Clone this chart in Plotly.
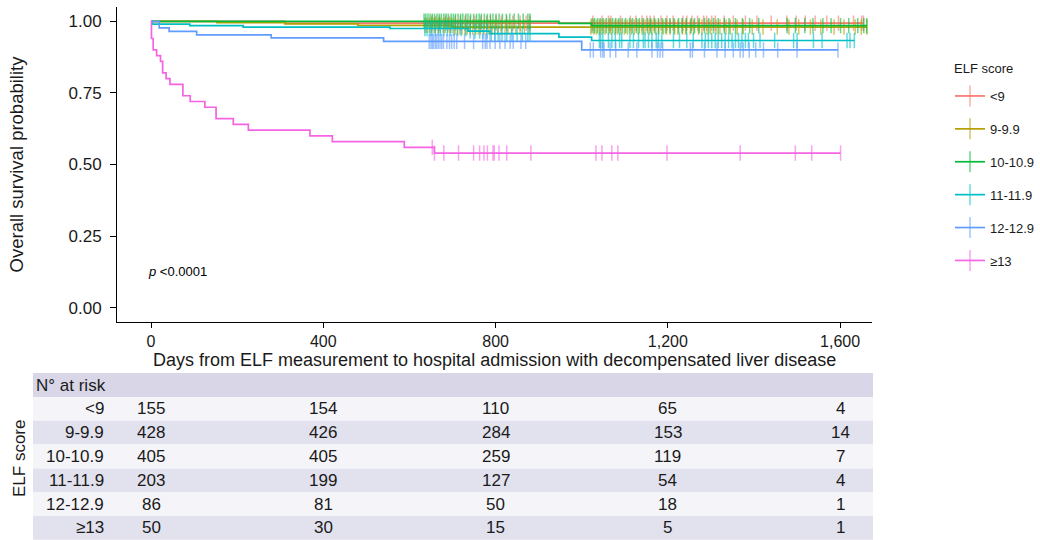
import plotly.graph_objects as go

# ---------------- data ----------------
groups = ["<9", "9-9.9", "10-10.9", "11-11.9", "12-12.9", "≥13"]
colors = ["#F8766D", "#B79F00", "#00BA38", "#00BFC4", "#619CFF", "#F564E3"]
tick_alpha = ["rgba(248,118,109,0.6)", "rgba(183,159,0,0.6)", "rgba(0,186,56,0.6)",
              "rgba(0,191,196,0.6)", "rgba(97,156,255,0.6)", "rgba(245,100,227,0.6)"]

# event times (days) and survival after each event
lt9_t = [311]
lt9_s = [0.9935]
g9_t = [153, 311, 480, 700]
g9_s = [0.995, 0.991, 0.986, 0.980]
g10_t = [947, 1023]
g10_s = [0.993, 0.985]
g11_t = [3, 90, 214, 555, 736, 787, 947, 1023]
g11_s = [0.990, 0.985, 0.980, 0.975, 0.966, 0.957, 0.945, 0.933]
g12_t = [19, 42, 106, 279, 540, 1000]
g12_s = [0.977, 0.965, 0.953, 0.942, 0.930, 0.900]
g13_t = [1, 5, 13, 22, 27, 35, 44, 74, 91, 125, 151, 191, 226, 369, 421, 588, 658]
g13_s = [0.94, 0.90, 0.88, 0.86, 0.82, 0.80, 0.78, 0.74, 0.72, 0.70, 0.66, 0.64, 0.62,
         0.60, 0.58, 0.56, 0.54]

# last follow-up per group
end_t = [1654, 1662, 1662, 1633, 1595, 1601]

# censoring times (days)
lt9_c = [652, 661, 670, 684, 693, 706, 718, 729, 741, 752, 766, 779, 788, 801, 813, 826, 840,
         857, 871, 880, 1026, 1047, 1062, 1068, 1090, 1113, 1126, 1140, 1151, 1159, 1168, 1184,
         1198, 1212, 1235, 1244, 1256, 1269, 1283, 1290, 1302, 1310, 1331, 1352, 1380, 1407,
         1440, 1476, 1498, 1519, 1542, 1569, 1596, 1631, 1650, 1654]
g9_c = [636, 640, 646, 651, 657, 660, 667, 671, 678, 683, 689, 694, 699, 706, 711, 717, 722,
        729, 734, 741, 747, 754, 760, 765, 773, 779, 784, 792, 798, 805, 813, 822, 829, 837,
        847, 857, 867, 878, 1021, 1028, 1034, 1041, 1047, 1054, 1062, 1068, 1077, 1083, 1090,
        1099, 1106, 1115, 1122, 1131, 1140, 1147, 1157, 1163, 1172, 1179, 1190, 1197, 1205,
        1216, 1223, 1234, 1241, 1252, 1260, 1271, 1279, 1291, 1299, 1312, 1321, 1335, 1345,
        1361, 1375, 1396, 1421, 1454, 1481, 1504, 1531, 1555, 1586, 1609, 1635, 1649, 1662]
g10_c = [634, 638, 643, 648, 653, 658, 664, 669, 674, 680, 685, 690, 697, 702, 707, 713, 719,
         724, 731, 736, 742, 749, 756, 762, 767, 774, 781, 788, 794, 801, 808, 816, 825, 833,
         843, 853, 864, 875, 880, 1024, 1030, 1037, 1043, 1050, 1057, 1065, 1072, 1079, 1086,
         1094, 1102, 1111, 1118, 1127, 1134, 1143, 1153, 1160, 1169, 1178, 1187, 1195, 1205,
         1214, 1225, 1233, 1243, 1254, 1262, 1273, 1285, 1295, 1306, 1317, 1331, 1342, 1357,
         1373, 1390, 1411, 1477, 1496, 1518, 1537, 1560, 1579, 1601, 1620, 1641, 1655, 1662]
g11_c = [636, 641, 648, 652, 660, 667, 672, 680, 688, 695, 703, 712, 720, 731, 741, 752, 763,
         771, 780, 790, 798, 806, 815, 826, 838, 850, 862, 875, 880, 1041, 1044, 1049, 1062,
         1070, 1078, 1088, 1093, 1112, 1120, 1132, 1143, 1147, 1155, 1163, 1173, 1178, 1186,
         1213, 1227, 1244, 1259, 1279, 1287, 1294, 1302, 1310, 1317, 1325, 1333, 1341, 1349,
         1357, 1364, 1372, 1380, 1387, 1399, 1414, 1448, 1492, 1500, 1538, 1558, 1616, 1623,
         1633]
g12_c = [646, 650, 653, 656, 660, 663, 667, 671, 675, 679, 687, 693, 698, 704, 710, 728, 749,
         770, 776, 780, 787, 799, 810, 822, 834, 841, 859, 870, 1020, 1027, 1044, 1049, 1052,
         1066, 1079, 1108, 1128, 1163, 1176, 1182, 1188, 1252, 1257, 1285, 1314, 1333, 1352,
         1368, 1375, 1389, 1404, 1422, 1455, 1500, 1595]
g13_c = [653, 658, 680, 714, 749, 763, 773, 781, 794, 797, 808, 826, 882, 1033, 1047, 1070,
         1084, 1198, 1368, 1496, 1534, 1601]

event_t = [lt9_t, g9_t, g10_t, g11_t, g12_t, g13_t]
event_s = [lt9_s, g9_s, g10_s, g11_s, g12_s, g13_s]
cens_t = [lt9_c, g9_c, g10_c, g11_c, g12_c, g13_c]

# numbers at risk
risk_times = [0, 400, 800, 1200, 1600]
risk_lt9 = [155, 154, 110, 65, 4]
risk_g9 = [428, 426, 284, 153, 14]
risk_g10 = [405, 405, 259, 119, 7]
risk_g11 = [203, 199, 127, 54, 4]
risk_g12 = [86, 81, 50, 18, 1]
risk_g13 = [50, 30, 15, 5, 1]
risk_rows = [risk_lt9, risk_g9, risk_g10, risk_g11, risk_g12, risk_g13]

x_tickvals = [0, 400, 800, 1200, 1600]
x_ticktext = ["0", "400", "800", "1,200", "1,600"]
y_tickvals = [0, 0.25, 0.5, 0.75, 1.0]

FONT = "Arial, Liberation Sans, sans-serif"
TXT = "#1a1a1a"

# ---------------- layout geometry (px) ----------------
W, H = 1040, 540
ML, MR, MT, MB = 117, 168, 7, 218
PW = W - ML - MR
PH = H - MT - MB


def px_x(px):
    return (px - ML) / PW


def px_y(py):
    return (H - MB - py) / PH


def surv_at(t, times, surv):
    s = 1.0
    for ti, si in zip(times, surv):
        if ti <= t:
            s = si
    return s


fig = go.Figure()

for i, g in enumerate(groups):
    xs = [0] + event_t[i] + [end_t[i]]
    ys = [1.0] + event_s[i] + [event_s[i][-1]]
    fig.add_trace(go.Scatter(x=xs, y=ys, mode="lines", line=dict(color=colors[i], width=1.7, shape="hv"),
                             showlegend=False, hoverinfo="skip"))
    cy = [surv_at(t, event_t[i], event_s[i]) for t in cens_t[i]]
    fig.add_trace(go.Scatter(x=cens_t[i], y=cy, mode="markers",
                             marker=dict(symbol="line-ns", size=11,
                                         line=dict(color=tick_alpha[i], width=1.5)),
                             showlegend=False, hoverinfo="skip"))

# legend entries
for i, g in enumerate(groups):
    fig.add_trace(go.Scatter(x=[None], y=[None], mode="lines+markers", name=g, legendgroup=g,
                             line=dict(color=colors[i], width=1.7),
                             marker=dict(symbol="line-ns", size=15,
                                         line=dict(color=tick_alpha[i], width=1.5))))

shapes = []
annotations = []

# table backgrounds
x0, x1 = px_x(33), px_x(873)
shapes.append(dict(type="rect", xref="paper", yref="paper", x0=x0, x1=x1,
                   y0=px_y(397), y1=px_y(373), fillcolor="#D8D6E7", line=dict(width=0), layer="below"))
row_top = 397
row_h = 23.8
for r in range(len(groups)):
    fill = "#F5F5F9" if r % 2 == 0 else "#E2E1EE"
    shapes.append(dict(type="rect", xref="paper", yref="paper", x0=x0, x1=x1,
                       y0=px_y(row_top + (r + 1) * row_h), y1=px_y(row_top + r * row_h),
                       fillcolor=fill, line=dict(width=0), layer="below"))

annotations.append(dict(xref="paper", yref="paper", x=px_x(34), y=px_y(385.5), text="N° at risk",
                        showarrow=False, xanchor="left", yanchor="middle",
                        font=dict(family=FONT, size=17, color=TXT)))
for r, g in enumerate(groups):
    yc = px_y(row_top + (r + 0.5) * row_h)
    annotations.append(dict(xref="paper", yref="paper", x=px_x(106), y=yc, text=g, showarrow=False,
                            xanchor="right", yanchor="middle",
                            font=dict(family=FONT, size=17, color=TXT)))
    for j, t in enumerate(risk_times):
        annotations.append(dict(xref="x", yref="paper", x=t, y=yc, text=str(risk_rows[r][j]),
                                showarrow=False, xanchor="center", yanchor="middle",
                                font=dict(family=FONT, size=17, color=TXT)))

annotations.append(dict(xref="paper", yref="paper", x=px_x(19), y=px_y(459), text="ELF score",
                        textangle=-90, showarrow=False, xanchor="center", yanchor="middle",
                        font=dict(family=FONT, size=17, color=TXT)))

# x-axis title
annotations.append(dict(xref="paper", yref="paper", x=0.5, y=px_y(360),
                        text="Days from ELF measurement to hospital admission with decompensated liver disease",
                        showarrow=False, xanchor="center", yanchor="middle",
                        font=dict(family=FONT, size=18, color=TXT)))

# legend title
annotations.append(dict(xref="paper", yref="paper", x=px_x(952), y=px_y(68), text="ELF score",
                        showarrow=False, xanchor="left", yanchor="middle",
                        font=dict(family=FONT, size=13, color=TXT)))

# p-value
annotations.append(dict(xref="x", yref="y", x=-12, y=0.127, text="<i>p</i> &lt;0.0001",
                        showarrow=False, xanchor="left", yanchor="middle",
                        font=dict(family=FONT, size=13, color="black")))

fig.update_layout(
    width=W, height=H,
    margin=dict(l=ML, r=MR, t=MT, b=MB, autoexpand=False),
    paper_bgcolor="white", plot_bgcolor="white",
    font=dict(family=FONT, color="black"),
    shapes=shapes, annotations=annotations,
    legend=dict(x=px_x(950), y=px_y(81), xanchor="left", yanchor="top",
                font=dict(size=13, family=FONT, color=TXT), traceorder="grouped", tracegroupgap=13,
                bgcolor="rgba(0,0,0,0)"),
    xaxis=dict(range=[-79, 1674], tickvals=x_tickvals, ticktext=x_ticktext,
               showgrid=False, zeroline=False, showline=True, linecolor="black", linewidth=1,
               ticks="outside", ticklen=5, tickcolor="black", tickfont=dict(size=16, family=FONT, color=TXT)),
    yaxis=dict(range=[-0.05, 1.05], tickvals=y_tickvals, tickformat=".2f",
               showgrid=False, zeroline=False, showline=True, linecolor="black", linewidth=1,
               ticks="outside", ticklen=6, tickcolor="black", ticklabelstandoff=5,
               tickfont=dict(size=17, family=FONT, color=TXT),
               title=dict(text="Overall survival probability", font=dict(size=18.5, family=FONT, color=TXT),
                          standoff=40)),
)

fig.write_html("out.html")
